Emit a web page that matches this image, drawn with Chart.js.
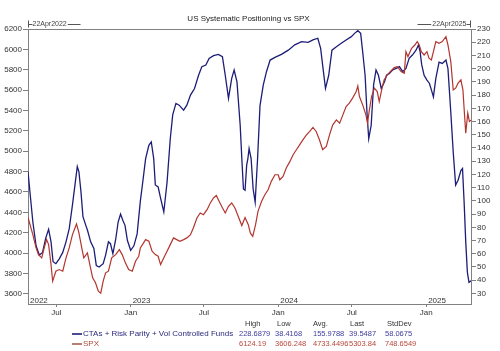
<!DOCTYPE html>
<html><head><meta charset="utf-8">
<script src="https://cdn.jsdelivr.net/npm/chart.js@4/dist/chart.umd.min.js"></script>
<style>html,body{margin:0;padding:0;background:#fff}#wrap{width:500px;height:351px}</style>
</head><body><div id="wrap"><canvas id="c" width="500" height="351"></canvas></div>
<script>
const chartTitle = 'US Systematic Positioning vs SPX';
const startDate = '2022-04-22';
const endDate = '2025-04-22';
const startLabel = '22Apr2022';
const endLabel = '22Apr2025';
const spxTicks = [3600,3800,4000,4200,4400,4600,4800,5000,5200,5400,5600,5800,6000,6200];
const ctaTicks = [30,40,50,60,70,80,90,100,110,120,130,140,150,160,170,180,190,200,210,220,230];
const monthTicks = ['2022-07-01','2023-01-01','2023-07-01','2024-01-01','2024-07-01','2025-01-01'];
const monthNames = ['Jan','Feb','Mar','Apr','May','Jun','Jul','Aug','Sep','Oct','Nov','Dec'];
const yearLabels = ['2022','2023','2024','2025'];
const seriesNames = ['CTAs + Risk Parity + Vol Controlled Funds','SPX'];
const statHeaders = ['High','Low','Avg.','Last','StdDev'];
const ctaStats = ['228.6879','38.4168','155.9788','39.5487','58.0675'];
const spxStats = ['6124.19','3606.248','4733.4496','5303.84','748.6549'];

const ctaDates = ['2022-04-22','2022-05-04','2022-05-12','2022-05-20','2022-05-28','2022-06-05','2022-06-12','2022-06-18','2022-06-23','2022-06-30',
'2022-07-08','2022-07-17','2022-07-25','2022-08-02','2022-08-10','2022-08-17','2022-08-22','2022-08-26','2022-08-31','2022-09-05',
'2022-09-12','2022-09-16','2022-09-24','2022-10-02','2022-10-08','2022-10-15','2022-10-25','2022-10-31','2022-11-07','2022-11-12',
'2022-11-18','2022-11-25','2022-12-01','2022-12-07','2022-12-13','2022-12-18','2022-12-24','2023-01-01','2023-01-09','2023-01-17',
'2023-01-25','2023-01-30','2023-02-07','2023-02-15','2023-02-21','2023-02-27','2023-03-03','2023-03-10','2023-03-16','2023-03-24',
'2023-04-01','2023-04-09','2023-04-15','2023-04-23','2023-05-01','2023-05-12','2023-05-20','2023-05-29','2023-06-08','2023-06-18',
'2023-06-26','2023-07-06','2023-07-14','2023-07-25','2023-08-06','2023-08-16','2023-08-23','2023-08-31','2023-09-08','2023-09-14',
'2023-09-21','2023-09-29','2023-10-03','2023-10-07','2023-10-11','2023-10-15','2023-10-18','2023-10-21','2023-10-26','2023-10-31',
'2023-11-05','2023-11-11','2023-11-17','2023-11-25','2023-12-03','2023-12-12','2023-12-24','2024-01-09','2024-01-26','2024-02-11',
'2024-02-28','2024-03-15','2024-03-27','2024-04-08','2024-04-15','2024-04-21','2024-04-27','2024-05-05','2024-05-13','2024-05-24',
'2024-06-05','2024-06-17','2024-06-30','2024-07-08','2024-07-16','2024-07-23','2024-07-28','2024-08-03','2024-08-08','2024-08-12',
'2024-08-18','2024-08-24','2024-08-30','2024-09-05','2024-09-12','2024-09-20','2024-09-25','2024-10-02','2024-10-10','2024-10-19',
'2024-10-27','2024-11-04','2024-11-12','2024-11-20','2024-11-28','2024-12-07','2024-12-13','2024-12-17','2024-12-21','2024-12-27',
'2025-01-03','2025-01-09','2025-01-14','2025-01-19','2025-01-25','2025-02-02','2025-02-10','2025-02-19','2025-02-24','2025-03-03',
'2025-03-09','2025-03-15','2025-03-21','2025-03-28','2025-04-01','2025-04-05','2025-04-09','2025-04-13','2025-04-17','2025-04-22'];
const ctaValues = [122,84,66,59,61,72,78.5,69,54,52.5,
56,61,69,79,97,114,126,122,107,88,
81.5,78,69,64,51,50,52.5,59,69,67.6,
60,71,84,90,85,81.5,70,62.6,66,75,
100,112,132,142,144.6,132,112,110.5,102,91.6,
114,147,165,173.7,172.4,168.6,172.4,180,185,195,
201.5,202.7,207.8,209.8,210.8,209,195,177.5,192.7,199,
190,157,132,109,108,127,132,139.6,132,109,
99,132,172,187.6,197.7,206.5,208.5,210.8,214,218,
220.4,219.9,221.7,223,215.4,200,185,195,214,216.6,
219.2,221.7,224.2,226.7,228.7,226.7,212.8,195,165,147,
157,187.6,199,195,185,190,195,196.4,199,200.2,
201.5,197.7,200.2,207.8,210.3,214,218,213,203,195,
191.4,189,184,178.7,192.7,205,204,206.5,200,167,
137,112,115.6,123,124.5,99,69,46,38.4,39.5];

const spxDates = ['2022-04-22','2022-05-04','2022-05-12','2022-05-18','2022-05-26','2022-06-01','2022-06-07','2022-06-12','2022-06-18','2022-06-22',
'2022-06-30','2022-07-08','2022-07-17','2022-07-25','2022-08-02','2022-08-10','2022-08-20','2022-08-26','2022-09-02','2022-09-07',
'2022-09-16','2022-09-22','2022-09-29','2022-10-06','2022-10-13','2022-10-19','2022-10-25','2022-10-31','2022-11-07','2022-11-15',
'2022-11-25','2022-12-04','2022-12-11','2022-12-19','2022-12-27','2023-01-05','2023-01-13','2023-01-21','2023-01-25','2023-02-07',
'2023-02-15','2023-02-23','2023-03-03','2023-03-10','2023-03-16','2023-03-24','2023-04-01','2023-04-09','2023-04-17','2023-04-25',
'2023-05-03','2023-05-12','2023-05-20','2023-05-29','2023-06-05','2023-06-14','2023-06-22','2023-06-30','2023-07-09','2023-07-17',
'2023-07-25','2023-08-01','2023-08-06','2023-08-14','2023-08-23','2023-08-31','2023-09-08','2023-09-16','2023-09-24','2023-10-03',
'2023-10-11','2023-10-19','2023-10-24','2023-10-30','2023-11-06','2023-11-12','2023-11-21','2023-11-29','2023-12-07','2023-12-15',
'2023-12-24','2024-01-01','2024-01-05','2024-01-13','2024-01-21','2024-01-30','2024-02-07','2024-02-15','2024-02-23','2024-03-02',
'2024-03-11','2024-03-19','2024-03-27','2024-04-04','2024-04-12','2024-04-20','2024-04-29','2024-05-07','2024-05-15','2024-05-24',
'2024-06-01','2024-06-09','2024-06-17','2024-06-25','2024-07-03','2024-07-12','2024-07-16','2024-07-20','2024-07-28','2024-08-05',
'2024-08-09','2024-08-13','2024-08-19','2024-08-26','2024-09-02','2024-09-07','2024-09-13','2024-09-19','2024-09-27','2024-10-06',
'2024-10-14','2024-10-22','2024-10-31','2024-11-08','2024-11-12','2024-11-17','2024-11-26','2024-12-04','2024-12-10','2024-12-15',
'2024-12-20','2024-12-27','2025-01-03','2025-01-08','2025-01-14','2025-01-19','2025-01-25','2025-02-02','2025-02-10','2025-02-19',
'2025-02-24','2025-03-03','2025-03-09','2025-03-15','2025-03-21','2025-03-28','2025-04-02','2025-04-06','2025-04-09','2025-04-14',
'2025-04-18','2025-04-22'];
const spxValues = [4350,4181,4051,3985,3953,4051,4132,4083,3887,3724,
3822,3838,3822,3953,4051,4181,4286,4198,4051,3953,
4002,3887,3757,3708,3626,3606,3724,3806,3822,3953,
3985,4034,3985,3904,3838,3822,3920,3969,4051,4132,
4116,4018,3985,3969,3887,3953,4018,4083,4149,4132,
4116,4132,4149,4181,4247,4345,4394,4377,4426,4492,
4541,4566,4524,4459,4394,4459,4492,4443,4361,4270,
4350,4279,4198,4165,4279,4410,4508,4573,4622,4704,
4769,4769,4720,4753,4835,4900,4965,5014,5063,5112,
5161,5194,5233,5194,5112,5014,5047,5161,5259,5308,
5276,5357,5439,5472,5521,5586,5640,5537,5455,5357,
5276,5390,5537,5619,5586,5488,5602,5700,5749,5788,
5821,5831,5782,5766,5978,5929,6011,6043,6076,6043,
5978,5945,5978,5913,5896,5978,6076,6060,6076,6124,
6043,5880,5602,5619,5668,5700,5602,5357,5178,5374,
5292,5304];

const FONT = '"Liberation Sans", Arial, sans-serif';
const AXIS = '#808080';
const TXT = '#333333';
const ctaColor = '#1d1d78';
const spxColor = '#b3352f';

const decor = {
  id: 'decor',
  afterDraw(chart) {
    const { ctx, chartArea: a, scales } = chart;
    const xs = scales.x;
    ctx.save();
    // top border
    ctx.strokeStyle = AXIS; ctx.lineWidth = 1;
    ctx.beginPath(); ctx.moveTo(a.left, Math.floor(a.top) + 0.5); ctx.lineTo(a.right, Math.floor(a.top) + 0.5); ctx.stroke();
    // title
    ctx.fillStyle = '#222'; ctx.font = '8px ' + FONT; ctx.textAlign = 'center'; ctx.textBaseline = 'middle';
    ctx.fillText(chartTitle, (a.left + a.right) / 2 - 1, 19);
    // date range markers
    const p0 = Math.round(xs.getPixelForValue(Date.parse(startDate))) + 0.5;
    const p1 = Math.round(xs.getPixelForValue(Date.parse(endDate))) - 0.5;
    ctx.strokeStyle = '#555'; ctx.fillStyle = '#444'; ctx.font = '7px ' + FONT;
    const my = 24.5;
    ctx.beginPath();
    ctx.moveTo(p0, 20.5); ctx.lineTo(p0, 27.5);
    ctx.moveTo(p0, my); ctx.lineTo(p0 + 4, my);
    ctx.moveTo(p1, 20.5); ctx.lineTo(p1, 27.5);
    ctx.moveTo(p1, my); ctx.lineTo(p1 - 4, my);
    ctx.stroke();
    ctx.textAlign = 'left'; ctx.textBaseline = 'middle';
    ctx.fillText(startLabel, p0 + 4, my);
    const w0 = ctx.measureText(startLabel).width;
    ctx.textAlign = 'right';
    ctx.fillText(endLabel, p1 - 4, my);
    const w1 = ctx.measureText(endLabel).width;
    ctx.beginPath();
    ctx.moveTo(p0 + 5 + w0, my); ctx.lineTo(p0 + 52, my);
    ctx.moveTo(p1 - 5 - w1, my); ctx.lineTo(p1 - 53, my);
    ctx.stroke();
    // year labels inside plot
    ctx.fillStyle = TXT; ctx.font = '8px ' + FONT; ctx.textAlign = 'left'; ctx.textBaseline = 'alphabetic';
    yearLabels.forEach((y, i) => {
      const v = i === 0 ? Date.parse(startDate) : Date.parse(y + '-01-01');
      ctx.fillText(y, xs.getPixelForValue(v) + 2, a.bottom - 1.5);
    });
    // stats table
    const hx = [245, 277, 313, 350, 387];
    const vx = [239, 275, 313, 349, 385];
    ctx.textBaseline = 'middle';
    ctx.font = '7.5px ' + FONT; ctx.fillStyle = TXT;
    statHeaders.forEach((h, i) => ctx.fillText(h, hx[i], 324));
    const rows = [
      { name: seriesNames[0], stats: ctaStats, line: ctaColor, label: '#2a2a7c', val: '#3c3c9c', y: 334 },
      { name: seriesNames[1], stats: spxStats, line: '#a8604c', label: '#ac4f3e', val: '#b8473a', y: 344 }
    ];
    rows.forEach(r => {
      ctx.strokeStyle = r.line; ctx.lineWidth = 1.6;
      ctx.beginPath(); ctx.moveTo(72, r.y); ctx.lineTo(82, r.y); ctx.stroke();
      ctx.font = '8px ' + FONT; ctx.fillStyle = r.label;
      ctx.fillText(r.name, 83, r.y);
      ctx.font = '7.5px ' + FONT; ctx.fillStyle = r.val;
      r.stats.forEach((s, i) => ctx.fillText(s, vx[i], r.y));
    });
    ctx.restore();
  }
};

const toPoints = (dates, vals) => dates.map((d, i) => ({ x: Date.parse(d), y: vals[i] }));

new Chart(document.getElementById('c'), {
  type: 'line',
  data: {
    datasets: [
      { label: seriesNames[1], data: toPoints(spxDates, spxValues), yAxisID: 'yL',
        borderColor: spxColor, borderWidth: 1.2, pointRadius: 0, tension: 0, fill: false },
      { label: seriesNames[0], data: toPoints(ctaDates, ctaValues), yAxisID: 'yR',
        borderColor: ctaColor, borderWidth: 1.3, pointRadius: 0, tension: 0, fill: false }
    ]
  },
  options: {
    responsive: false, animation: false, devicePixelRatio: 1,
    layout: { padding: { top: 29, left: 0, right: 0, bottom: 0 } },
    plugins: { legend: { display: false }, tooltip: { enabled: false }, title: { display: false } },
    scales: {
      x: {
        type: 'linear', min: Date.parse(startDate), max: Date.parse(endDate),
        afterBuildTicks: s => { s.ticks = monthTicks.map(d => ({ value: Date.parse(d) })); },
        afterFit: s => { s.height = 47; },
        grid: { display: true, drawOnChartArea: false, drawTicks: true, tickLength: 3, color: AXIS },
        border: { display: true, color: AXIS },
        ticks: { autoSkip: false, maxRotation: 0, padding: 1, color: TXT, font: { family: FONT, size: 8 },
          callback: v => monthNames[new Date(v).getUTCMonth()] }
      },
      yL: {
        type: 'linear', position: 'left', min: 3500, max: 6200,
        afterBuildTicks: s => { s.ticks = spxTicks.map(v => ({ value: v })); },
        afterFit: s => { s.width = 28; },
        grid: { display: true, drawOnChartArea: false, drawTicks: true, tickLength: 5, color: AXIS },
        border: { display: true, color: AXIS },
        ticks: { padding: 1, color: TXT, font: { family: FONT, size: 8 }, callback: v => String(v) }
      },
      yR: {
        type: 'linear', position: 'right', min: 22, max: 230,
        afterBuildTicks: s => { s.ticks = ctaTicks.map(v => ({ value: v })); },
        afterFit: s => { s.width = 29; },
        grid: { display: true, drawOnChartArea: false, drawTicks: true, tickLength: 5, color: AXIS },
        border: { display: true, color: AXIS },
        ticks: { padding: 1, color: TXT, font: { family: FONT, size: 8 }, callback: v => String(v) }
      }
    }
  },
  plugins: [decor]
});
</script>
</body></html>
